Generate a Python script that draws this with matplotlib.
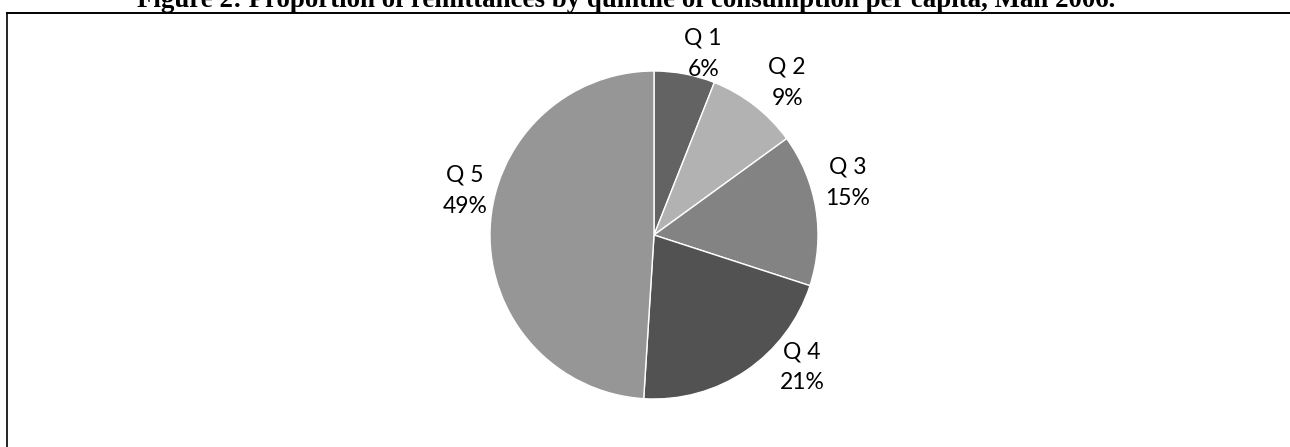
import matplotlib
matplotlib.use("Agg")
import matplotlib.pyplot as plt
from matplotlib.lines import Line2D
import numpy as np

# data
quintiles = ["Q 1", "Q 2", "Q 3", "Q 4", "Q 5"]
shares = [6, 9, 15, 21, 49]
colors = ["#636363", "#b2b2b2", "#838383", "#525252", "#969696"]

# label placement (radius factor, angle in degrees) - excel "best fit" look
label_r = [1.144, 1.232, 1.225, 1.211, 1.183]
label_ang = [74.8, 48.8, 15.1, -41.8, 166.9]

W, H = 1290, 447
fig = plt.figure(figsize=(W / 100, H / 100), dpi=100)

# title, clipped at the top as in the source document
fig.text(137 / W, 1 - 7 / H, "Figure 2: Proportion of remittances by quintile of consumption per capita, Mali 2006.",
         fontfamily="Liberation Serif", fontweight="bold", fontsize=19.4,
         ha="left", va="baseline")

# frame lines (top and left)
fig.add_artist(Line2D([7 / W, 1], [1 - 12.5 / H, 1 - 12.5 / H], color="black", lw=1.4))
fig.add_artist(Line2D([7 / W, 7 / W], [0, 1 - 12.5 / H], color="black", lw=1.2))

# pie axes: centre (654, 235) px, radius 164 px
cx, cy, r = 654, 235, 164
ax = fig.add_axes([(cx - r) / W, (H - cy - r) / H, 2 * r / W, 2 * r / H])
wedges, _ = ax.pie(shares, colors=colors, startangle=90, counterclock=False,
                   radius=1, wedgeprops=dict(edgecolor="white", linewidth=1))
ax.set_xlim(-1, 1)
ax.set_ylim(-1, 1)
ax.set_aspect("equal")
ax.axis("off")

for name, val, rr, aa in zip(quintiles, shares, label_r, label_ang):
    x = rr * np.cos(np.radians(aa))
    y = rr * np.sin(np.radians(aa))
    ax.text(x, y, f"{name}\n{val}%", ha="center", va="center",
            fontfamily="Lato", fontsize=16.5, linespacing=1.6, clip_on=False)

fig.savefig("out.png", dpi=100)
